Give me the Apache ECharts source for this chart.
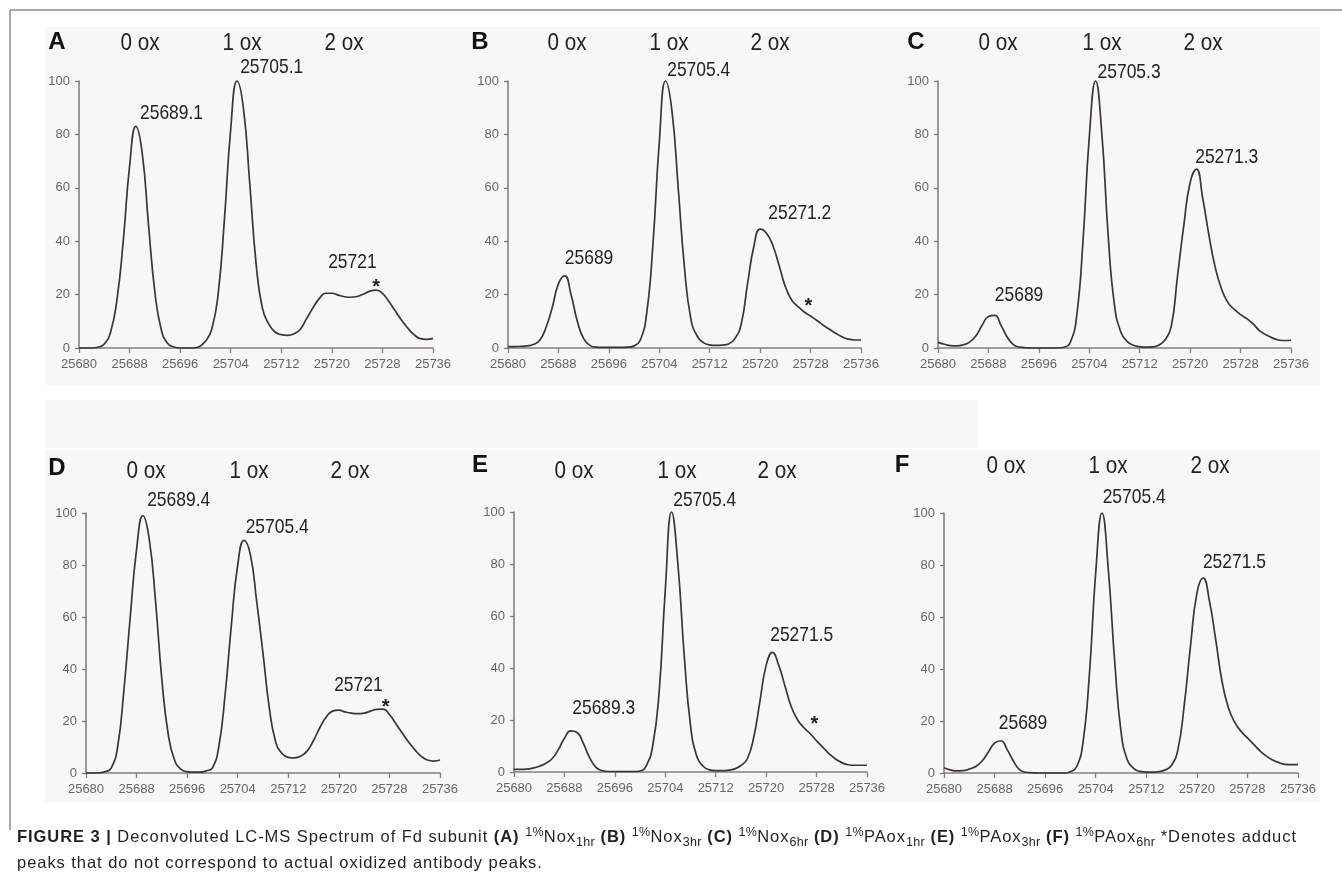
<!DOCTYPE html>
<html>
<head>
<meta charset="utf-8">
<script src="https://cdn.jsdelivr.net/npm/echarts@6/dist/echarts.min.js"></script>
<style>
html, body { margin: 0; padding: 0; background: #ffffff; }
#chart { position: absolute; left: 0; top: 0; width: 1342px; height: 889px; }
#caption { position: absolute; left: 17px; top: 823px; font-family: 'Liberation Sans', Arial, sans-serif; font-size: 16.5px; color: #231f20; line-height: 26px; letter-spacing: 0.95px; white-space: nowrap; }
#caption sup, #caption sub { font-size: 12.5px; line-height: 0; letter-spacing: 0.3px; }
</style>
</head>
<body>
<div id="chart"></div>
<div id="caption"><b>FIGURE 3 |</b> Deconvoluted LC-MS Spectrum of Fd subunit <b>(A)</b> <sup>1%</sup>Nox<sub>1hr</sub> <b>(B)</b> <sup>1%</sup>Nox<sub>3hr</sub> <b>(C)</b> <sup>1%</sup>Nox<sub>6hr</sub> <b>(D)</b> <sup>1%</sup>PAox<sub>1hr</sub> <b>(E)</b> <sup>1%</sup>PAox<sub>3hr</sub> <b>(F)</b> <sup>1%</sup>PAox<sub>6hr</sub> *Denotes adduct<br>peaks that do not correspond to actual oxidized antibody peaks.</div>
<script>
// ---------------- DATA ----------------
const massTicks = [25680, 25688, 25696, 25704, 25712, 25720, 25728, 25736];
const intensityTicks = [0, 20, 40, 60, 80, 100];
const oxLabels = ['0 ox', '1 ox', '2 ox'];
const panelLetters = ['A', 'B', 'C', 'D', 'E', 'F'];

// deconvoluted mass grid (Da)
const mass = [25680, 25681, 25682, 25683, 25684, 25685, 25686, 25687, 25688, 25689,
  25690, 25691, 25692, 25693, 25694, 25695, 25696, 25697, 25698, 25699,
  25700, 25701, 25702, 25703, 25704, 25705, 25706, 25707, 25708, 25709,
  25710, 25711, 25712, 25713, 25714, 25715, 25716, 25717, 25718, 25719,
  25720, 25721, 25722, 25723, 25724, 25725, 25726, 25727, 25728, 25729,
  25730, 25731, 25732, 25733, 25734, 25735, 25736];

// relative intensity (%)
const intensityA = [0, 0, 0, 0.3, 1.5, 6, 18, 40, 68, 83,
  73, 46, 21, 7, 1.8, 0.4, 0, 0, 0, 0.5,
  2.5, 7, 20, 48, 82, 100, 90, 62, 32, 15,
  9, 6, 5, 4.7, 5.3, 7, 11, 15, 18.5, 20.5,
  20.5, 19.8, 19.2, 19, 19.3, 20.2, 21.3, 21.7, 20.5, 17.5,
  14, 10.5, 7.5, 5, 3.5, 3.2, 3.6];
const intensityB = [0.5, 0.5, 0.6, 0.8, 1.3, 2.8, 7.5, 15, 24, 27,
  20, 10, 3.5, 1, 0.3, 0.2, 0.2, 0.2, 0.2, 0.3,
  0.8, 3, 13, 39, 77, 100, 89, 60, 30, 11,
  4.5, 2, 1.2, 1, 1.1, 1.5, 3.5, 9, 24, 38,
  44.5, 43, 38.5, 31, 23, 18, 15.5, 13.5, 12, 10.3,
  8.5, 7, 5.5, 4.2, 3.3, 3, 3];
const intensityC = [2.1, 1.4, 0.9, 0.8, 1.2, 2.2, 4.5, 8.5, 11.8, 12.2,
  8.5, 4, 1.2, 0.3, 0.1, 0, 0, 0, 0, 0,
  0.3, 2.2, 12, 40, 79, 100, 80, 42, 16, 6,
  2.5, 1, 0.5, 0.3, 0.4, 1, 3, 8, 27, 46,
  62, 67, 56, 42, 30, 22, 17, 14.5, 12.5, 11,
  9, 6.5, 5, 3.8, 3, 2.8, 2.9];
const intensityD = [0, 0, 0.1, 0.5, 2, 10, 32, 60, 86, 99,
  90, 66, 36, 15, 5, 1.5, 0.5, 0.3, 0.3, 0.8,
  2, 10, 30, 57, 80, 89.5, 84, 66, 46, 25,
  12, 7.5, 6, 5.8, 6.5, 8.5, 12.5, 17.5, 21.5, 23.8,
  24.2, 23.5, 23, 22.8, 23, 23.8, 24.5, 24.6, 22.5, 19,
  15.5, 12, 9, 6.5, 5, 4.6, 5];
const intensityE = [1, 1, 1.1, 1.5, 2.2, 3.3, 5, 8.5, 13, 15.8,
  15.2, 11, 5.5, 1.8, 0.5, 0.2, 0.2, 0.2, 0.2, 0.2,
  0.4, 2.5, 10, 30, 70, 100, 80, 45, 18, 6,
  2.2, 0.8, 0.5, 0.5, 0.7, 1.2, 2.5, 5, 13, 27,
  41, 46, 41, 33, 25, 20, 17, 14.7, 12, 9.5,
  7, 5, 3.6, 2.8, 2.6, 2.6, 2.6];
const intensityF = [2, 1.2, 0.8, 0.9, 1.5, 2.5, 4.5, 8, 11.5, 12.4,
  9, 4.5, 1.2, 0.3, 0.1, 0, 0, 0, 0, 0,
  0.5, 2.5, 12, 38, 77, 100, 78, 43, 16, 5,
  1.8, 0.6, 0.3, 0.3, 0.5, 1.2, 3, 9, 26, 49,
  69, 75, 66, 51, 35, 25, 19.5, 16, 13.5, 11,
  8.5, 6.5, 5, 4, 3.3, 3.2, 3.2];

// peak annotations: [text, mass, intensity]
const peaksA = [['25689.1', 25689.1, 83], ['25705.1', 25705.1, 100], ['25721', 25721, 19.5], ['*', 25727, 21.7]];
const peaksB = [['25689', 25688.7, 27.4], ['25705.4', 25705.1, 100], ['25271.2', 25720.5, 44.8], ['*', 25727.5, 13]];
const peaksC = [['25689', 25688.7, 12.4], ['25705.3', 25705, 100], ['25271.3', 25720.8, 67.2]];
const peaksD = [['25689.4', 25689.2, 100], ['25705.4', 25705.1, 89.5], ['25721', 25721, 23], ['*', 25727, 24.6]];
const peaksE = [['25689.3', 25689.4, 16], ['25705.4', 25705.1, 100], ['25271.5', 25720.8, 46.2], ['*', 25727.5, 14]];
const peaksF = [['25689', 25688.9, 12.4], ['25705.4', 25705.1, 100], ['25271.5', 25720.8, 75.5]];

// ---------------- LAYOUT / STYLE ----------------
const SANS = "'Liberation Sans', Arial, sans-serif";
const NARROW_SCALE = 0.83;
const panels = [
  { grid: { left: 79, top: 81, width: 354, height: 267 }, data: intensityA, peaks: peaksA,
    offs: [[3.5, -13], [2.5, -14], [-10, -34], [0, -3]], letter: [57, 42], ox: [[140, 43], [242, 43], [344, 43]] },
  { grid: { left: 508, top: 81, width: 353, height: 267 }, data: intensityB, peaks: peaksB,
    offs: [[2, -17], [1, -11], [5, -15], [1, -7]], letter: [480, 42], ox: [[567, 43], [669, 43], [770, 43]] },
  { grid: { left: 938, top: 81, width: 353, height: 267 }, data: intensityC, peaks: peaksC,
    offs: [[2, -20], [2, -9], [0, -11]], letter: [916, 42], ox: [[998, 43], [1102, 43], [1203, 43]] },
  { grid: { left: 86, top: 513, width: 354, height: 260 }, data: intensityD, peaks: peaksD,
    offs: [[3, -13], [1, -13], [-11, -28], [2.5, -2]], letter: [57, 468], ox: [[146, 471], [249, 471], [350, 471]] },
  { grid: { left: 514, top: 512, width: 353, height: 260 }, data: intensityE, peaks: peaksE,
    offs: [[-1, -22], [1, -12], [-1, -17], [1, -11]], letter: [480, 465], ox: [[574, 471], [677, 471], [777, 471]] },
  { grid: { left: 944, top: 513, width: 354, height: 260 }, data: intensityF, peaks: peaksF,
    offs: [[-1.5, -18], [0, -16], [1, -14]], letter: [902, 465], ox: [[1006, 466], [1108, 466], [1210, 466]] }
];

const grids = [], xAxes = [], yAxes = [], series = [], graphics = [];

// panel backgrounds and frame
graphics.push({ type: 'rect', z: -10, silent: true, shape: { x: 45, y: 27, width: 1275, height: 358 }, style: { fill: '#f7f7f7' } });
graphics.push({ type: 'rect', z: -10, silent: true, shape: { x: 45, y: 400, width: 933, height: 48 }, style: { fill: '#f7f7f7' } });
graphics.push({ type: 'rect', z: -10, silent: true, shape: { x: 45, y: 450, width: 1275, height: 352 }, style: { fill: '#f7f7f7' } });
graphics.push({ type: 'line', silent: true, shape: { x1: 10, y1: 10, x2: 1342, y2: 10 }, style: { stroke: '#8c8c8c', lineWidth: 1.5 } });
graphics.push({ type: 'line', silent: true, shape: { x1: 10, y1: 10, x2: 10, y2: 830 }, style: { stroke: '#8c8c8c', lineWidth: 1.5 } });

const tickFmt = v => String(v);
panels.forEach((p, i) => {
  grids.push(Object.assign({ containLabel: false }, p.grid));
  xAxes.push({
    type: 'value', gridIndex: i, min: massTicks[0], max: massTicks[massTicks.length - 1], interval: 8,
    splitLine: { show: false },
    axisLine: { show: true, onZero: false, lineStyle: { color: '#8a7d79', width: 1.5 } },
    axisTick: { show: true, inside: false, length: 5, lineStyle: { color: '#8a7d79', width: 1.3 } },
    axisLabel: { color: '#666666', fontFamily: SANS, fontSize: 13, margin: 10, formatter: tickFmt }
  });
  yAxes.push({
    type: 'value', gridIndex: i, min: intensityTicks[0], max: intensityTicks[intensityTicks.length - 1], interval: 20,
    splitLine: { show: false },
    axisLine: { show: true, lineStyle: { color: '#7a7a7a', width: 1.5 } },
    axisTick: { show: true, inside: false, length: 4, lineStyle: { color: '#7a7a7a', width: 1.3 } },
    axisLabel: { color: '#666666', fontFamily: SANS, fontSize: 13, margin: 9, formatter: tickFmt }
  });
  series.push({
    type: 'line', xAxisIndex: i, yAxisIndex: i,
    data: mass.map((m, k) => [m, p.data[k]]),
    showSymbol: false, smooth: 0.5, clip: false, silent: true,
    lineStyle: { color: '#3d3434', width: 1.7 }
  });
  graphics.push({ type: 'text', silent: true, style: { text: panelLetters[i], x: p.letter[0], y: p.letter[1], align: 'center', verticalAlign: 'middle', font: "bold 24px 'Liberation Sans', Arial, sans-serif", fill: '#111111' } });
  p.ox.forEach((pos, k) => {
    graphics.push({ type: 'text', silent: true, x: pos[0], y: pos[1], scaleX: 0.86,
      style: { text: oxLabels[k], x: 0, y: 0, align: 'center', verticalAlign: 'middle', font: "24px 'Liberation Sans', Arial, sans-serif", fill: '#222222' } });
  });
});

const chart = echarts.init(document.getElementById('chart'), null, { renderer: 'canvas' });
chart.setOption({
  animation: false,
  backgroundColor: '#ffffff',
  grid: grids, xAxis: xAxes, yAxis: yAxes, series: series
});

// peak labels anchored to the data coordinates through the axes
panels.forEach((p, i) => {
  p.peaks.forEach((pk, k) => {
    const pt = chart.convertToPixel({ gridIndex: i }, [pk[1], pk[2]]);
    const star = pk[0] === '*';
    graphics.push({
      type: 'text', silent: true, x: pt[0] + p.offs[k][0], y: pt[1] + p.offs[k][1], scaleX: star ? 1 : NARROW_SCALE,
      style: {
        text: pk[0], x: 0, y: 0, align: star ? 'center' : 'left', verticalAlign: 'middle',
        font: star ? "bold 20px 'Liberation Sans', Arial, sans-serif" : "21px 'Liberation Sans', Arial, sans-serif",
        fill: '#222222'
      }
    });
  });
});
chart.setOption({ graphic: { elements: graphics } });
</script>
</body>
</html>
